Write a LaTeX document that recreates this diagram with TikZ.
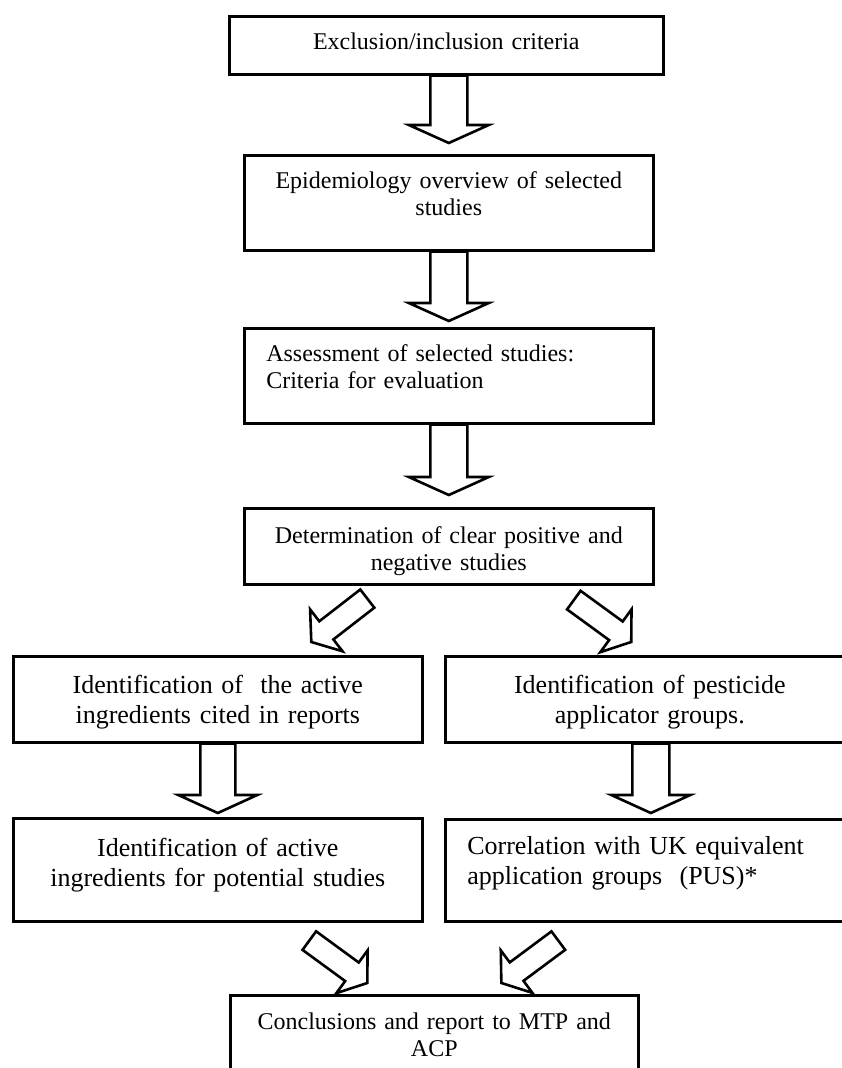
\documentclass[tikz,border=0pt]{standalone}
\usepackage{fontspec}
\setmainfont{Liberation Serif}
\usetikzlibrary{calc}

% hollow block arrow: tail, tip, half shaft, half head, head length
\newcommand{\hollowarrow}[5]{%
  \draw[arrowline] let \p1=($(#2)-(#1)$), \n1={atan2(\y1,\x1)}, \n2={veclen(\x1,\y1)} in
    [shift={(#1)}, rotate=\n1] (0pt,#3) -- ({\n2*1pt-#5},#3) -- ({\n2*1pt-#5},#4) -- ({\n2*1pt},0pt)
    -- ({\n2*1pt-#5},-#4) -- ({\n2*1pt-#5},-#3) -- (0pt,-#3) -- cycle;
}

\begin{document}
\begin{tikzpicture}[x=0.5pt, y=-0.5pt,
  stage/.style={draw, line width=1.3pt, anchor=north west, inner sep=0pt, align=center, text width=204.5pt, font=\fontsize{12}{13.75}\selectfont},
  stagebig/.style={stage, font=\fontsize{13}{15}\selectfont},
  arrowline/.style={line width=1.3pt, line join=miter, fill=white}]
		\useasboundingbox (0,0) rectangle (841,1068);
		% boxes
		\node[stage, text width=217pt, text height=16.5pt, text depth=12.5pt] (incl) at (228,15) {Exclusion/inclusion criteria};
		\node[stage, text height=16.5pt, text depth=31pt] (epi) at (243,154) {Epidemiology overview of selected\\ studies};
		\node[stage, align=left, inner xsep=11pt, text width=182.5pt, text height=16.5pt, text depth=31pt] (assess) at (243,327) {Assessment of selected studies:\\ Criteria for evaluation};
		\node[stage, text height=17.5pt, text depth=20.5pt] (det) at (243,507) {Determination of clear positive and\\ negative studies};
		\node[stagebig, text height=18.5pt, text depth=24.5pt] (cited) at (12,655) {Identification of\ \ the active\\ ingredients cited in reports};
		\node[stagebig, text height=18.5pt, text depth=24.5pt] (appl) at (444,655) {Identification of pesticide\\ applicator groups.};
		\node[stagebig, text height=19pt, text depth=32.5pt] (potential) at (12,817) {Identification of active\\ ingredients for potential studies};
		\node[stagebig, align=left, inner xsep=11pt, text width=182.5pt, text height=17.5pt, text depth=33.5pt] (corr) at (444,818) {Correlation with UK equivalent\\ application groups\ \ (PUS)*};
		\node[stage, text width=204pt, text height=17pt, text depth=33pt] (concl) at (229,994) {Conclusions and report to MTP and\\ ACP};
		% arrow ends
		\coordinate (a1) at (epi.north |- incl.south);
		\coordinate (b1) at ($(epi.north)+(0,-11)$);
		\coordinate (a2) at (epi.south);
		\coordinate (b2) at ($(assess.north)+(0,-6)$);
		\coordinate (a3) at (assess.south);
		\coordinate (b3) at ($(det.north)+(0,-12)$);
		\coordinate (a4) at (cited.south);
		\coordinate (b4) at ($(potential.north)+(0,-4)$);
		\coordinate (a5) at ($(appl.south)+(1,0)$);
		\coordinate (b5) at ($(corr.north)+(1,-5)$);
		\coordinate (d1) at ($(det.south)+(-81.5,13)$);
		\coordinate (e1) at ($(cited.north)+(93.5,-13)$);
		\coordinate (d2) at ($(det.south)+(125,14.5)$);
		\coordinate (e2) at ($(appl.north)+(-18.5,-13)$);
		\coordinate (d3) at ($(potential.south)+(91.5,18)$);
		\coordinate (e3) at ($(concl.north)+(-67,-11)$);
		\coordinate (d4) at ($(corr.south)+(-91.5,18)$);
		\coordinate (e4) at ($(concl.north)+(67,-11)$);
		% straight arrows
		\hollowarrow{a1}{b1}{9.25pt}{20pt}{9pt}
		\hollowarrow{a2}{b2}{9.25pt}{20pt}{9pt}
		\hollowarrow{a3}{b3}{9.25pt}{20pt}{9pt}
		\hollowarrow{a4}{b4}{8.75pt}{19.75pt}{9pt}
		\hollowarrow{a5}{b5}{9.25pt}{19.75pt}{9pt}
		% slanted arrows
		\hollowarrow{d1}{e1}{5.75pt}{13.25pt}{9.5pt}
		\hollowarrow{d2}{e2}{5.75pt}{13.25pt}{9.5pt}
		\hollowarrow{d3}{e3}{5.75pt}{13.25pt}{9.5pt}
		\hollowarrow{d4}{e4}{5.75pt}{13.25pt}{9.5pt}
\end{tikzpicture}
\end{document}
